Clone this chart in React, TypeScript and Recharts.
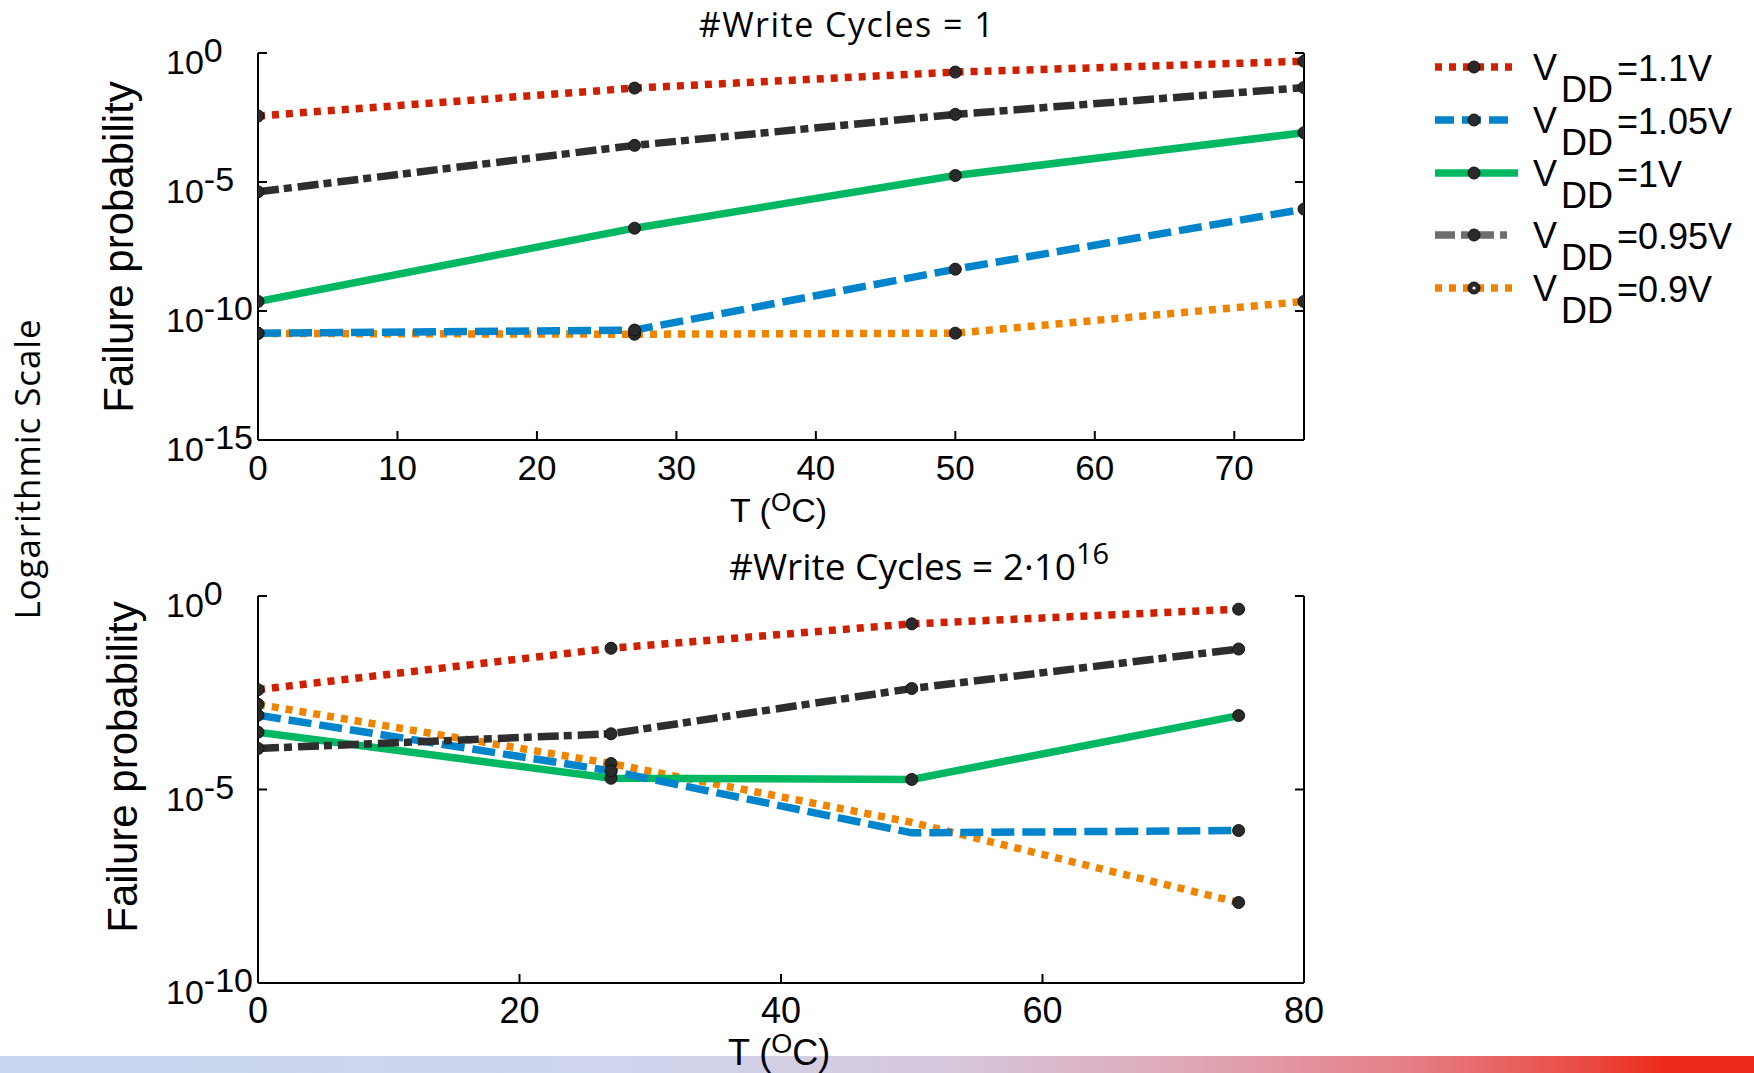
import React from 'react';
import { LineChart, Line, XAxis, YAxis } from 'recharts';

// Temperatures (°C) at which failure probability was evaluated
const temps = [0, 27, 50, 75];

// Panel 1: #Write Cycles = 1  (values are log10 of failure probability)
const top11 = [-2.44, -1.36, -0.74, -0.32];
const top105 = [-10.86, -10.74, -8.38, -6.05];
const top10 = [-9.63, -6.79, -4.75, -3.09];
const top095 = [-5.38, -3.58, -2.38, -1.34];
const top09 = [-10.87, -10.9, -10.86, -9.63];

// Panel 2: #Write Cycles = 2·10^16
const bot11 = [-2.42, -1.35, -0.72, -0.34];
const bot105 = [-3.08, -4.52, -6.12, -6.06];
const bot10 = [-3.52, -4.71, -4.74, -3.09];
const bot095 = [-3.94, -3.56, -2.39, -1.37];
const bot09 = [-2.8, -4.33, -5.85, -7.92];

const topXTicks = [0, 10, 20, 30, 40, 50, 60, 70];
const botXTicks = [0, 20, 40, 60, 80];
const topYTicks = [1e-15, 1e-10, 1e-5, 1];
const botYTicks = [1e-10, 1e-5, 1];

const legendLabels = ['=1.1V', '=1.05V', '=1V', '=0.95V', '=0.9V'];

const buildRows = (a: number[], b: number[], c: number[], d: number[], e: number[]) =>
  temps.map((T, i) => ({
    T,
    v11: Math.pow(10, a[i]),
    v105: Math.pow(10, b[i]),
    v10: Math.pow(10, c[i]),
    v095: Math.pow(10, d[i]),
    v09: Math.pow(10, e[i]),
  }));

const topRows = buildRows(top11, top105, top10, top095, top09);
const botRows = buildRows(bot11, bot105, bot10, bot095, bot09);

type Series = { key: string; color: string; dash?: string; legendColor: string; legendDash?: string; hollow?: boolean };
const seriesStyles: Record<string, Series> = {
  v11: { key: 'v11', color: '#cf2000', dash: '7 7', legendColor: '#cf2000', legendDash: '7 7' },
  v105: { key: 'v105', color: '#0084cb', dash: '23 8', legendColor: '#0084cb', legendDash: '19 8' },
  v10: { key: 'v10', color: '#00b862', legendColor: '#00b862' },
  v095: { key: 'v095', color: '#2e2e2e', dash: '21 5 8 6', legendColor: '#6e6e6e', legendDash: '20 6 7 6' },
  v09: { key: 'v09', color: '#ee8400', dash: '7 7', legendColor: '#ee8400', legendDash: '7 7', hollow: true },
};
const legendOrder = ['v11', 'v105', 'v10', 'v095', 'v09'];
const drawOrder = ['v09', 'v10', 'v105', 'v095', 'v11'];

const ARIAL = "'Liberation Sans', Arial, Helvetica, sans-serif";
const SANS = "'Open Sans', 'Noto Sans', sans-serif";

const W = 1754;
const PLOT_L = 258;
const PLOT_R = 1304;
const PLOT_H = 387;
const XAXIS_H = 100;
const LINE_W = 7.5;
const DOT_R = 6;

const XTick = (props: any) => {
  const { x, y, payload, fontSize } = props;
  return (
    <g>
      <line x1={x} x2={x} y1={y} y2={y - 9} stroke="#000" strokeWidth={2} />
      <text x={x} y={y + 40} textAnchor="middle" fontFamily={ARIAL} fontSize={fontSize || 35} fill="#000">
        {payload.value}
      </text>
    </g>
  );
};

const TopTick = (props: any) => {
  const { x, y } = props;
  return <line x1={x} x2={x} y1={y} y2={y + 9} stroke="#000" strokeWidth={2} />;
};

const LeftTick = (props: any) => {
  const { x, y, payload } = props;
  const exp = Math.round(Math.log10(payload.value));
  return (
    <g>
      <line x1={x} x2={x + 9} y1={y} y2={y} stroke="#000" strokeWidth={2} />
      <text x={166} y={y + 21} textAnchor="start" fontFamily={ARIAL} fontSize={34} fill="#000">
        10
        <tspan dy={-12}>{exp === 0 ? '0' : '-' + Math.abs(exp)}</tspan>
      </text>
    </g>
  );
};

const RightTick = (props: any) => {
  const { x, y } = props;
  return <line x1={x} x2={x - 9} y1={y} y2={y} stroke="#000" strokeWidth={2} />;
};

const makeDot = (hidden: number[]) => (p: any) => {
  const { cx, cy, index } = p;
  if (cx == null || cy == null || hidden.includes(index)) return <g key={`d-${index}`} />;
  return <circle key={`d-${index}`} cx={cx} cy={cy} r={DOT_R} fill="#2a2a2a" stroke="#111" strokeWidth={1} />;
};

type PanelProps = {
  rows: any[];
  top: number;
  marginTop: number;
  xMax: number;
  xTicks: number[];
  yMin: number;
  yTicks: number[];
  hidden: Record<string, number[]>;
  xFont: number;
};

const Panel = ({ rows, top, marginTop, xMax, xTicks, yMin, yTicks, hidden, xFont }: PanelProps) => {
  const h = marginTop + PLOT_H + XAXIS_H;
  const axisLine = { stroke: '#000', strokeWidth: 2 };
  return (
    <div style={{ position: 'absolute', left: 0, top }}>
      <LineChart width={W} height={h} data={rows} margin={{ top: marginTop, right: 0, bottom: 0, left: 0 }}>
        <XAxis
          xAxisId="b"
          dataKey="T"
          type="number"
          domain={[0, xMax]}
          ticks={xTicks}
          interval={0}
          allowDataOverflow
          orientation="bottom"
          height={XAXIS_H}
          axisLine={axisLine}
          tickLine={false}
          tickSize={0}
          tickMargin={0}
          tick={<XTick fontSize={xFont} />}
        />
        <XAxis
          xAxisId="t"
          dataKey="T"
          type="number"
          domain={[0, xMax]}
          ticks={xTicks}
          interval={0}
          allowDataOverflow
          orientation="top"
          height={0}
          axisLine={axisLine}
          tickLine={false}
          tickSize={0}
          tickMargin={0}
          tick={<TopTick />}
        />
        <YAxis
          yAxisId="l"
          type="number"
          scale="log"
          domain={[yMin, 1]}
          ticks={yTicks}
          interval={0}
          allowDataOverflow
          width={PLOT_L}
          axisLine={axisLine}
          tickLine={false}
          tickSize={0}
          tickMargin={0}
          tick={<LeftTick />}
        />
        <YAxis
          yAxisId="r"
          orientation="right"
          type="number"
          scale="log"
          domain={[yMin, 1]}
          ticks={yTicks}
          interval={0}
          allowDataOverflow
          width={W - PLOT_R}
          axisLine={axisLine}
          tickLine={false}
          tickSize={0}
          tickMargin={0}
          tick={<RightTick />}
        />
        {drawOrder.map((k) => {
          const s = seriesStyles[k];
          return (
            <Line
              key={k}
              xAxisId="b"
              yAxisId="l"
              type="linear"
              dataKey={k}
              stroke={s.color}
              strokeWidth={LINE_W}
              strokeDasharray={s.dash}
              dot={makeDot(hidden[k] || [])}
              activeDot={false}
              isAnimationActive={false}
            />
          );
        })}
      </LineChart>
    </div>
  );
};

const legendRowsY = [67, 120, 173, 235, 288];

const Overlay = () => (
  <svg width={W} height={1073} style={{ position: 'absolute', left: 0, top: 0, pointerEvents: 'none' }}>
    {/* titles */}
    <text x={847} y={37} textAnchor="middle" fontFamily={SANS} fontSize={34} letterSpacing={1.5} fill="#000">
      #Write Cycles = 1
    </text>
    <text x={729} y={580} textAnchor="start" fontFamily={SANS} fontSize={37} fill="#000">
      #Write Cycles = 2·10
      <tspan fontSize={29} dy={-16}>16</tspan>
    </text>
    {/* x labels */}
    <text x={730} y={522} fontFamily={ARIAL} fontSize={34} fill="#000">
      T (<tspan fontSize={26} dy={-11}>O</tspan>
      <tspan dy={11}>C)</tspan>
    </text>
    <text x={728} y={1065} fontFamily={ARIAL} fontSize={36} fill="#000">
      T (<tspan fontSize={27} dy={-12}>O</tspan>
      <tspan dy={12}>C)</tspan>
    </text>
    {/* y labels */}
    <text transform="translate(133,247) rotate(-90)" textAnchor="middle" fontFamily={ARIAL} fontSize={42} fill="#000">
      Failure probability
    </text>
    <text transform="translate(137,767) rotate(-90)" textAnchor="middle" fontFamily={ARIAL} fontSize={42} fill="#000">
      Failure probability
    </text>
    <text transform="translate(40,469) rotate(-90)" textAnchor="middle" fontFamily={SANS} fontSize={35} letterSpacing={0.9} fill="#000">
      Logarithmic Scale
    </text>
    {/* legend */}
    {legendOrder.map((k, i) => {
      const s = seriesStyles[k];
      const y = legendRowsY[i];
      return (
        <g key={k}>
          <line
            x1={1435}
            x2={k === 'v10' ? 1518 : 1513}
            y1={y}
            y2={y}
            stroke={s.legendColor}
            strokeWidth={LINE_W}
            strokeDasharray={s.legendDash}
          />
          <circle cx={1474} cy={y} r={DOT_R} fill="#2a2a2a" stroke="#111" strokeWidth={1} />
          {s.hollow && <circle cx={1474} cy={y} r={1.6} fill="#fff" />}
          <text x={1533} y={y + 13} fontFamily={ARIAL} fontSize={36} fill="#000">V</text>
          <text x={1561} y={y + 35} fontFamily={ARIAL} fontSize={36} fill="#000">DD</text>
          <text x={1617} y={y + 14} fontFamily={ARIAL} fontSize={36} fill="#000">{legendLabels[i]}</text>
        </g>
      );
    })}
  </svg>
);

export default function App() {
  return (
    <div style={{ position: 'absolute', left: 0, top: 0, width: W, height: 1073, background: '#fff', overflow: 'hidden' }}>
      <div
        style={{
          position: 'absolute',
          left: 0,
          top: 1056,
          width: W,
          height: 17,
          background:
            'linear-gradient(to right, #c9d7f0 0%, #cfd6ee 35%, #d6c6da 55%, #dfa7b6 68%, #e58088 80%, #ea4d46 90%, #ee2a1a 95%, #ee2a1a 100%)',
        }}
      />
      <Panel
        rows={topRows}
        top={0}
        marginTop={53}
        xMax={75}
        xTicks={topXTicks}
        yMin={1e-15}
        yTicks={topYTicks}
        hidden={{}}
        xFont={35}
      />
      <Panel
        rows={botRows}
        top={520}
        marginTop={76}
        xMax={80}
        xTicks={botXTicks}
        yMin={1e-10}
        yTicks={botYTicks}
        hidden={{ v105: [2], v09: [2] }}
        xFont={36}
      />
      <Overlay />
    </div>
  );
}
